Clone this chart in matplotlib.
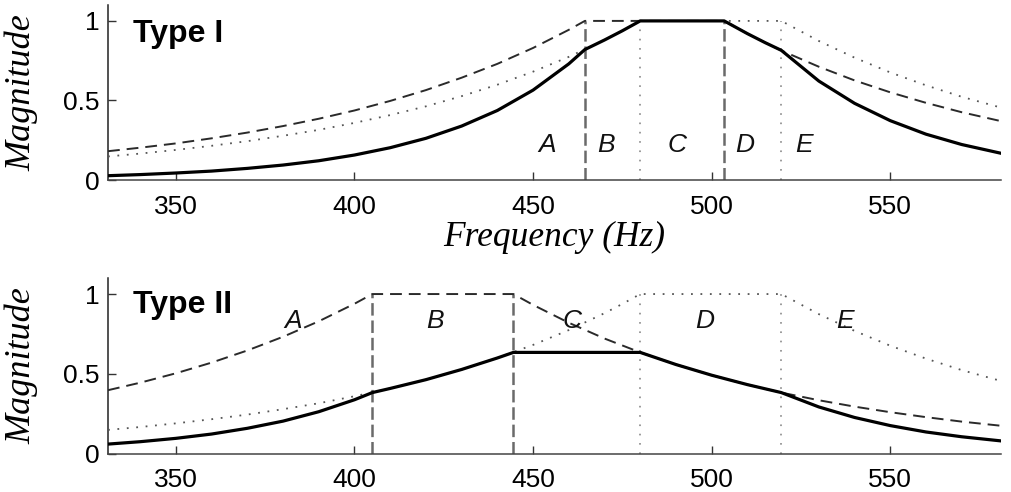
import matplotlib
matplotlib.use("Agg")
import matplotlib.pyplot as plt

plt.rcParams['lines.scale_dashes'] = False

# ---------------- data ----------------
# Type I
t1_dash_f = [331, 340, 350, 360, 370, 380, 390, 400, 410, 420, 430, 440, 450, 460, 464.5,
             503.5, 510, 515, 520, 530, 540, 550, 560, 570, 581]
t1_dash_m = [0.181, 0.203, 0.230, 0.262, 0.298, 0.339, 0.385, 0.437, 0.497, 0.565, 0.643, 0.730, 0.830, 0.944, 1.0,
             1.0, 0.920, 0.863, 0.809, 0.712, 0.626, 0.551, 0.485, 0.426, 0.370]
t1_dot_f = [331, 340, 350, 360, 370, 380, 390, 400, 410, 420, 430, 440, 450, 460, 470, 475, 480,
            519.5, 530, 540, 550, 560, 570, 581]
t1_dot_m = [0.148, 0.166, 0.189, 0.215, 0.244, 0.278, 0.315, 0.359, 0.408, 0.463, 0.527, 0.599, 0.681, 0.774, 0.880, 0.938, 1.0,
            1.0, 0.874, 0.769, 0.676, 0.595, 0.523, 0.455]
t1_sol_f = [331, 340, 350, 360, 370, 380, 390, 400, 410, 420, 430, 440, 450, 460, 464.5, 470, 475, 480,
            503.5, 510, 515, 519.5, 530, 540, 550, 560, 570, 581]
t1_sol_m = [0.027, 0.034, 0.044, 0.056, 0.073, 0.094, 0.121, 0.157, 0.203, 0.262, 0.339, 0.437, 0.565, 0.730, 0.820, 0.880, 0.938, 1.0,
            1.0, 0.920, 0.863, 0.815, 0.622, 0.482, 0.373, 0.288, 0.223, 0.168]
t1_dash_edges = [464.5, 503.5]
t1_dot_edges = [480, 519.5]
t1_letters = ['A', 'B', 'C', 'D', 'E']
t1_letter_f = [454, 470.4, 490.3, 509.2, 525.9]

# Type II
t2_dash_f = [331, 340, 350, 360, 370, 380, 390, 400, 405,
             444.5, 450, 460, 470, 480, 490, 500, 510, 519.5, 530, 540, 550, 560, 570, 581]
t2_dash_m = [0.397, 0.444, 0.503, 0.570, 0.646, 0.732, 0.829, 0.939, 1.0,
             1.0, 0.932, 0.820, 0.721, 0.634, 0.558, 0.491, 0.432, 0.382, 0.334, 0.294, 0.259, 0.228, 0.200, 0.174]
t2_dot_f = [331, 340, 350, 360, 370, 380, 390, 400, 410, 420, 430, 440, 450, 460, 470, 475, 480,
            519.5, 530, 540, 550, 560, 570, 581]
t2_dot_m = [0.148, 0.166, 0.189, 0.215, 0.244, 0.278, 0.315, 0.359, 0.408, 0.463, 0.527, 0.599, 0.681, 0.774, 0.880, 0.938, 1.0,
            1.0, 0.874, 0.769, 0.676, 0.595, 0.523, 0.455]
t2_sol_f = [331, 340, 350, 360, 370, 380, 390, 400, 405, 410, 420, 430, 440, 444.5,
            480, 490, 500, 510, 519.5, 530, 540, 550, 560, 570, 581]
t2_sol_m = [0.059, 0.074, 0.095, 0.122, 0.158, 0.203, 0.262, 0.337, 0.382, 0.408, 0.463, 0.527, 0.599, 0.634,
            0.634, 0.558, 0.491, 0.432, 0.382, 0.292, 0.226, 0.175, 0.135, 0.105, 0.079]
t2_dash_edges = [405, 444.5]
t2_dot_edges = [480, 519.5]
t2_letters = ['A', 'B', 'C', 'D', 'E']
t2_letter_f = [382.8, 422.6, 460.8, 498.0, 537.3]

x_ticks = [350, 400, 450, 500, 550]
y_ticks = [0, 0.5, 1]
y_ticklabels = ['0', '0.5', '1']

# ---------------- figure ----------------
W, H = 1011, 492
fig = plt.figure(figsize=(W / 100, H / 100), dpi=100)

ax1 = fig.add_axes([108 / W, 1 - 180 / H, (1001 - 108) / W, 175 / H])
ax2 = fig.add_axes([108 / W, 1 - 453.5 / H, (1001 - 108) / W, 175.4 / H])

sans = ['Liberation Sans', 'DejaVu Sans']
serif = ['Liberation Serif', 'DejaVu Serif']


def draw(ax, dash_f, dash_m, dot_f, dot_m, sol_f, sol_m, dash_edges, dot_edges,
         letters, letter_f, letter_y, title, title_y):
    for e in dash_edges:
        ax.plot([e, e], [0, 1], color='#6a6a6a', lw=1.8, dashes=(9, 3.5), zorder=2)
    for e in dot_edges:
        ax.plot([e, e], [0, 1], color='#8a8a8a', lw=1.2, dashes=(1.2, 5.5), zorder=2)
    ax.plot(dot_f, dot_m, color='#555555', lw=1.3, dashes=(1.3, 5.5), zorder=3)
    ax.plot(dash_f, dash_m, color='#2a2a2a', lw=1.4, dashes=(8.5, 5), zorder=3)
    ax.plot(sol_f, sol_m, color='black', lw=2.3, zorder=4, solid_joinstyle='round')
    for lab, f in zip(letters, letter_f):
        ax.text(f, letter_y, lab, ha='center', va='baseline', fontsize=19,
                style='italic', family=sans, color='#111111')
    ax.text(338, title_y, title, ha='left', va='baseline', fontsize=23,
            fontweight='bold', family=sans)
    ax.set_xlim(331, 581)
    ax.set_ylim(0, 1.1)
    ax.set_xticks(x_ticks)
    ax.set_xticklabels([str(t) for t in x_ticks], family=sans, fontsize=19)
    ax.set_yticks(y_ticks)
    ax.set_yticklabels(y_ticklabels, family=sans, fontsize=19)
    ax.tick_params(direction='in', length=6, width=1, color='#333333')
    ax.tick_params(axis='x', pad=10.5)
    ax.tick_params(axis='y', pad=6)
    ax.spines['top'].set_visible(False)
    ax.spines['right'].set_visible(False)
    ax.spines['left'].set_color('#222222')
    ax.spines['bottom'].set_color('#444444')
    ax.spines['left'].set_linewidth(1.1)
    ax.spines['bottom'].set_linewidth(1.1)
    ax.set_ylabel('Magnitude', family=serif, style='italic', fontsize=26, labelpad=18)


draw(ax1, t1_dash_f, t1_dash_m, t1_dot_f, t1_dot_m, t1_sol_f, t1_sol_m,
     t1_dash_edges, t1_dot_edges, t1_letters, t1_letter_f, 0.178, 'Type I', 0.87)
draw(ax2, t2_dash_f, t2_dash_m, t2_dot_f, t2_dot_m, t2_sol_f, t2_sol_m,
     t2_dash_edges, t2_dot_edges, t2_letters, t2_letter_f, 0.785, 'Type II', 0.879)

ax1.set_xlabel('Frequency (Hz)', family=serif, style='italic', fontsize=25.5, labelpad=2)

fig.savefig('out.png', dpi=100)
